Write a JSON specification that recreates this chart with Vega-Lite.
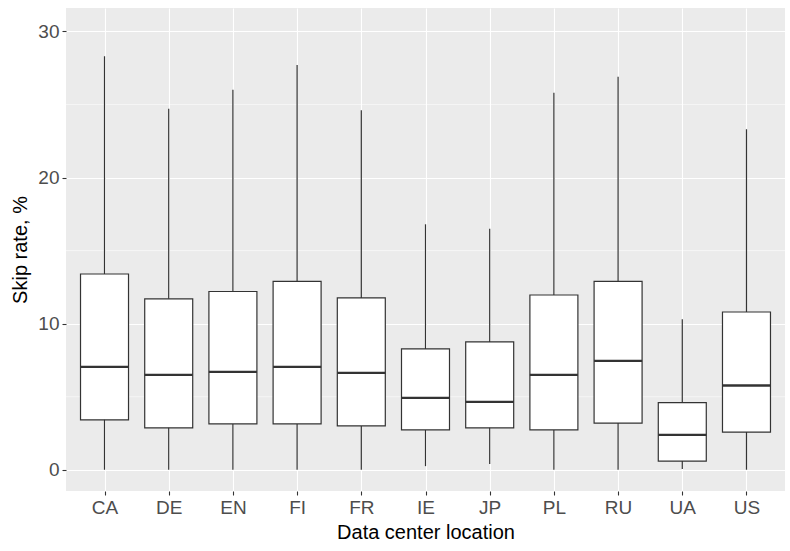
{
  "$schema": "https://vega.github.io/schema/vega-lite/v6.json",
  "autosize": {"type": "none"},
  "padding": {"left": 66, "top": 8, "right": 5, "bottom": 60},
  "width": 719,
  "height": 483,
  "background": "white",
  "data": {"values": [
    {"loc": "CA", "lower": 0, "q1": 3.42, "median": 7.04, "q3": 13.4, "upper": 28.3},
    {"loc": "DE", "lower": 0, "q1": 2.87, "median": 6.5, "q3": 11.7, "upper": 24.7},
    {"loc": "EN", "lower": 0, "q1": 3.14, "median": 6.7, "q3": 12.2, "upper": 26.0},
    {"loc": "FI", "lower": 0, "q1": 3.14, "median": 7.04, "q3": 12.9, "upper": 27.7},
    {"loc": "FR", "lower": 0, "q1": 3.0, "median": 6.63, "q3": 11.76, "upper": 24.6},
    {"loc": "IE", "lower": 0.25, "q1": 2.73, "median": 4.92, "q3": 8.27, "upper": 16.8},
    {"loc": "JP", "lower": 0.4, "q1": 2.87, "median": 4.65, "q3": 8.75, "upper": 16.5},
    {"loc": "PL", "lower": 0, "q1": 2.73, "median": 6.5, "q3": 11.96, "upper": 25.8},
    {"loc": "RU", "lower": 0, "q1": 3.2, "median": 7.45, "q3": 12.9, "upper": 26.9},
    {"loc": "UA", "lower": 0.05, "q1": 0.6, "median": 2.39, "q3": 4.6, "upper": 10.3},
    {"loc": "US", "lower": 0, "q1": 2.58, "median": 5.77, "q3": 10.8, "upper": 23.3}
  ]},
  "encoding": {
    "x": {
      "field": "loc", "type": "nominal",
      "scale": {"type": "point", "padding": 0.6},
      "axis": {
        "title": "Data center location",
        "labelAngle": 0,
        "grid": true, "gridColor": "white", "gridWidth": 1.1,
        "domain": false,
        "tickColor": "#333333", "tickSize": 4, "tickWidth": 1.1,
        "labelColor": "#4D4D4D", "labelFont": "Liberation Sans", "labelFontSize": 19,
        "labelPadding": 3,
        "titleColor": "black", "titleFont": "Liberation Sans", "titleFontSize": 20, "titleFontWeight": "normal",
        "titlePadding": 5
      }
    }
  },
  "layer": [
    {
      "mark": {"type": "rule", "color": "white", "strokeWidth": 0.55},
      "data": {"values": [{"v": 5}, {"v": 15}, {"v": 25}]},
      "encoding": {"y": {"field": "v", "type": "quantitative"}, "x": null}
    },
    {
      "mark": {"type": "rule", "color": "#333333", "strokeWidth": 1.2},
      "encoding": {
        "y": {
          "field": "lower", "type": "quantitative",
          "scale": {"domain": [-1.45, 31.6], "nice": false, "zero": false},
          "axis": {
            "title": "Skip rate, %",
            "values": [0, 10, 20, 30],
            "grid": true, "gridColor": "white", "gridWidth": 1.1,
            "domain": false,
            "tickColor": "#333333", "tickSize": 4, "tickWidth": 1.1,
            "labelColor": "#4D4D4D", "labelFont": "Liberation Sans", "labelFontSize": 19,
            "labelPadding": 3,
            "titleColor": "black", "titleFont": "Liberation Sans", "titleFontSize": 20, "titleFontWeight": "normal",
            "titlePadding": 7
          }
        },
        "y2": {"field": "upper"}
      }
    },
    {
      "mark": {"type": "bar", "size": 48, "fill": "white", "stroke": "#333333", "strokeWidth": 1.2},
      "encoding": {
        "y": {"field": "q1", "type": "quantitative"},
        "y2": {"field": "q3"}
      }
    },
    {
      "mark": {"type": "tick", "size": 48, "thickness": 2.3, "color": "#333333", "opacity": 1},
      "encoding": {
        "y": {"field": "median", "type": "quantitative"}
      }
    }
  ],
  "config": {
    "view": {"fill": "#EBEBEB", "stroke": null},
    "axis": {"gridOpacity": 1}
  }
}
